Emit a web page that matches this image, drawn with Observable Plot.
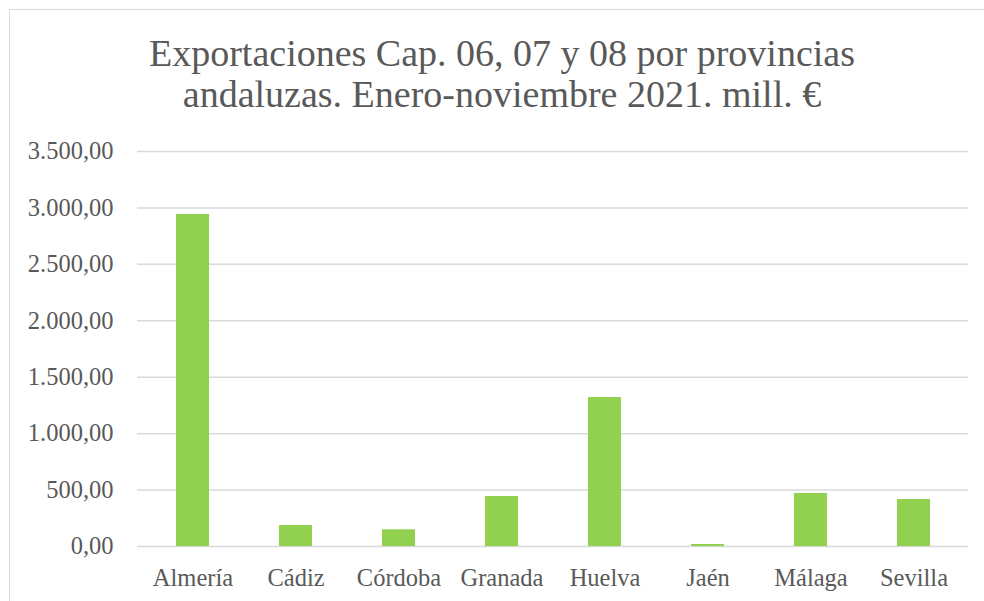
<!DOCTYPE html>
<html>
<head>
<meta charset="utf-8">
<script src="https://cdn.jsdelivr.net/npm/d3@7"></script>
<script src="https://cdn.jsdelivr.net/npm/@observablehq/plot@0.6"></script>
<style>
  html, body { margin: 0; padding: 0; background: #fff; overflow: hidden; }
  #frame {
    position: absolute; left: 9px; top: 9px; width: 986px; height: 620px;
    border: 1.5px solid #d9d9d9; box-sizing: border-box; background: #fff;
  }
  #title {
    position: absolute; left: 0; top: 0; width: 100%;
    padding-top: 23px; text-align: center;
    font-family: "Liberation Serif", serif; font-size: 38px; line-height: 41px;
    color: #595959;
  }
  #chart { position: absolute; left: 0; top: 120px; }
</style>
</head>
<body>
<div id="frame">
  <div id="title">Exportaciones Cap. 06, 07 y 08 por provincias<br>andaluzas. Enero-noviembre 2021. mill. €</div>
  <div id="chart"></div>
</div>
<script>
const provincias = ["Almería", "Cádiz", "Córdoba", "Granada", "Huelva", "Jaén", "Málaga", "Sevilla"];
const valores = [2942, 186, 148, 443, 1320, 18, 470, 416];
const yTicks = [0, 500, 1000, 1500, 2000, 2500, 3000, 3500];

const data = provincias.map((p, i) => ({provincia: p, valor: valores[i]}));
const es = d3.formatLocale({decimal: ",", thousands: ".", grouping: [3], currency: ["", " €"]});
const fmt = es.format(",.2f");

const chart = Plot.plot({
  width: 983,
  height: 470,
  marginLeft: 127,
  marginRight: 25,
  marginTop: 21,
  marginBottom: 54,
  style: {fontFamily: "Liberation Serif, serif", fontSize: "24.5px", color: "#595959", background: "transparent"},
  x: {domain: provincias, paddingInner: 0.68, paddingOuter: 0.34, label: null, tickSize: 0, tickPadding: 22},
  y: {domain: [0, 3500], ticks: yTicks, tickFormat: fmt, label: null, tickSize: 0, tickPadding: 24},
  marks: [
    Plot.ruleY(yTicks, {stroke: "#d9d9d9", strokeWidth: 1.5}),
    Plot.barY(data, {x: "provincia", y: "valor", fill: "#92d050"}),
    Plot.axisX({tickSize: 0, tickPadding: 22, fill: "#595959"}),
    Plot.axisY({ticks: yTicks, tickFormat: fmt, tickSize: 0, tickPadding: 24, fill: "#595959"})
  ]
});
document.getElementById("chart").appendChild(chart);
</script>
</body>
</html>
